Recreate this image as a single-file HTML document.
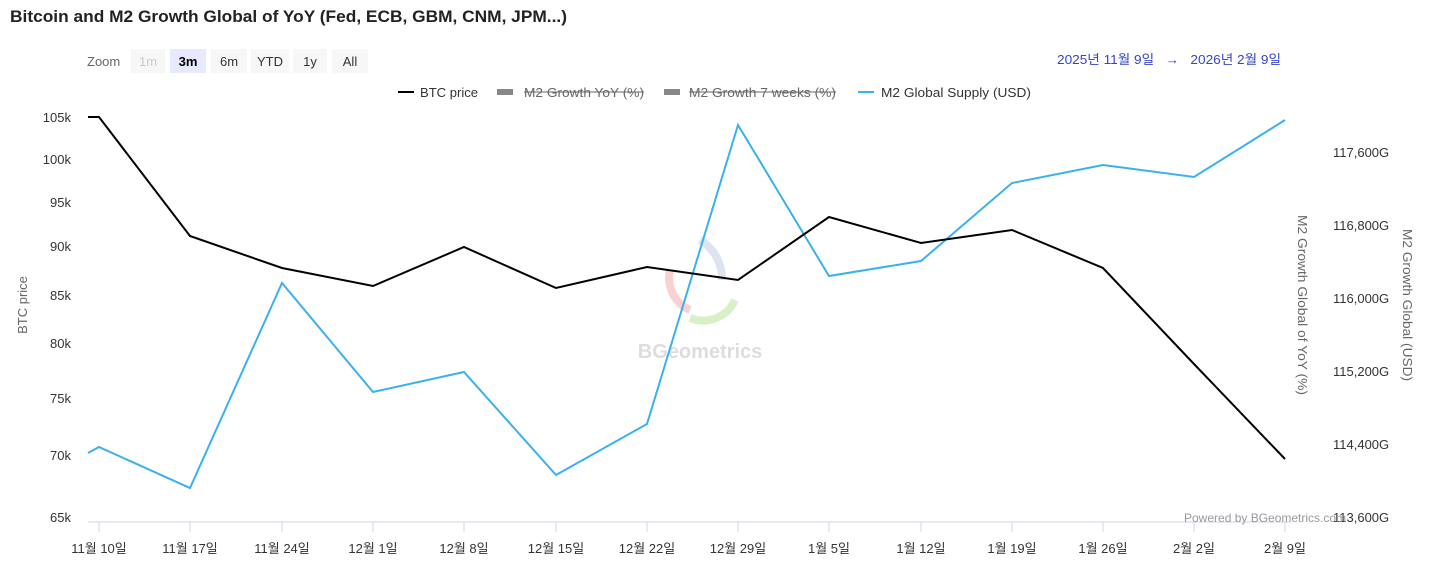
<!DOCTYPE html>
<html><head><meta charset="utf-8"><style>
body{margin:0;background:#fff;width:1431px;height:582px;overflow:hidden;font-family:"Liberation Sans","Noto Sans CJK KR",sans-serif}
</style></head><body>
<svg width="1431" height="582" xmlns="http://www.w3.org/2000/svg" font-family="Liberation Sans, Noto Sans CJK KR, sans-serif">
<text x="10" y="22" font-size="17" font-weight="bold" fill="#222" textLength="557" lengthAdjust="spacingAndGlyphs">Bitcoin and M2 Growth Global of YoY (Fed, ECB, GBM, CNM, JPM...)</text>
<text x="87" y="66" font-size="13" fill="#666">Zoom</text>
<rect x="131" y="49" width="34" height="24" fill="#f7f7f7"/><text x="148" y="66" font-size="13" fill="#ccc" text-anchor="middle">1m</text>
<rect x="170" y="49" width="36" height="24" fill="#e6e9ff"/><text x="188" y="66" font-size="13" fill="#000" font-weight="bold" text-anchor="middle">3m</text>
<rect x="211" y="49" width="36" height="24" fill="#f7f7f7"/><text x="229" y="66" font-size="13" fill="#333" text-anchor="middle">6m</text>
<rect x="251" y="49" width="38" height="24" fill="#f7f7f7"/><text x="270" y="66" font-size="13" fill="#333" text-anchor="middle">YTD</text>
<rect x="293" y="49" width="34" height="24" fill="#f7f7f7"/><text x="310" y="66" font-size="13" fill="#333" text-anchor="middle">1y</text>
<rect x="332" y="49" width="36" height="24" fill="#f7f7f7"/><text x="350" y="66" font-size="13" fill="#333" text-anchor="middle">All</text>
<text x="1057" y="64" font-size="13" fill="#3344cc" textLength="224" lengthAdjust="spacingAndGlyphs">2025년 11월 9일 &#160; → &#160; 2026년 2월 9일</text>
<g font-size="13" fill="#333">
<line x1="398" y1="92" x2="414" y2="92" stroke="#000" stroke-width="2"/><text x="420" y="97" textLength="58" lengthAdjust="spacingAndGlyphs">BTC price</text>
<rect x="497" y="89" width="16" height="6" fill="#888"/><text x="524" y="97" fill="#666" textLength="120" lengthAdjust="spacingAndGlyphs">M2 Growth YoY (%)</text><line x1="524" y1="92" x2="644" y2="92" stroke="#666"/>
<rect x="664" y="89" width="16" height="6" fill="#888"/><text x="689" y="97" fill="#666" textLength="147" lengthAdjust="spacingAndGlyphs">M2 Growth 7 weeks (%)</text><line x1="689" y1="92" x2="836" y2="92" stroke="#666"/>
<line x1="858" y1="92" x2="874" y2="92" stroke="#3ab0ee" stroke-width="2"/><text x="881" y="97" textLength="150" lengthAdjust="spacingAndGlyphs">M2 Global Supply (USD)</text>
</g>
<g font-size="13" fill="#333" text-anchor="end">
<text x="71" y="122">105k</text><text x="71" y="164">100k</text><text x="71" y="207">95k</text><text x="71" y="251">90k</text><text x="71" y="300">85k</text><text x="71" y="348">80k</text><text x="71" y="403">75k</text><text x="71" y="460">70k</text><text x="71" y="522">65k</text>
</g>
<g font-size="13" fill="#333">
<text x="1333" y="157">117,600G</text><text x="1333" y="230">116,800G</text><text x="1333" y="303">116,000G</text><text x="1333" y="376">115,200G</text><text x="1333" y="449">114,400G</text><text x="1333" y="522">113,600G</text>
</g>
<text transform="translate(27,305) rotate(-90)" font-size="13" fill="#666" text-anchor="middle">BTC price</text>
<text transform="translate(1298,305) rotate(90)" font-size="13" fill="#666" text-anchor="middle" textLength="180" lengthAdjust="spacingAndGlyphs">M2 Growth Global of YoY (%)</text>
<text transform="translate(1403,305) rotate(90)" font-size="13" fill="#666" text-anchor="middle" textLength="152" lengthAdjust="spacingAndGlyphs">M2 Growth Global (USD)</text>
<text x="700" y="358" font-size="20" font-weight="bold" fill="#ddd" text-anchor="middle">BGeometrics</text>
<path d="M700,240 A45,45 0 0 1 722,280" fill="none" stroke="#dde4f0" stroke-width="8"/>
<path d="M670,270 A35,35 0 0 0 690,310" fill="none" stroke="#fbd0d0" stroke-width="8"/>
<path d="M690,318 A35,35 0 0 0 735,300" fill="none" stroke="#d8f0c8" stroke-width="8"/>
<line x1="88" y1="522" x2="1290" y2="522" stroke="#ccd6eb"/>
<g stroke="#ccd6eb">
<line x1="99" y1="522" x2="99" y2="532"/><line x1="190" y1="522" x2="190" y2="532"/><line x1="282" y1="522" x2="282" y2="532"/><line x1="373" y1="522" x2="373" y2="532"/><line x1="464" y1="522" x2="464" y2="532"/><line x1="556" y1="522" x2="556" y2="532"/><line x1="647" y1="522" x2="647" y2="532"/><line x1="738" y1="522" x2="738" y2="532"/><line x1="829" y1="522" x2="829" y2="532"/><line x1="921" y1="522" x2="921" y2="532"/><line x1="1012" y1="522" x2="1012" y2="532"/><line x1="1103" y1="522" x2="1103" y2="532"/><line x1="1194" y1="522" x2="1194" y2="532"/><line x1="1285" y1="522" x2="1285" y2="532"/>
</g>
<g font-size="13" fill="#333" text-anchor="middle">
<text x="99" y="553">11월 10일</text><text x="190" y="553">11월 17일</text><text x="282" y="553">11월 24일</text><text x="373" y="553">12월 1일</text><text x="464" y="553">12월 8일</text><text x="556" y="553">12월 15일</text><text x="647" y="553">12월 22일</text><text x="738" y="553">12월 29일</text><text x="829" y="553">1월 5일</text><text x="921" y="553">1월 12일</text><text x="1012" y="553">1월 19일</text><text x="1103" y="553">1월 26일</text><text x="1194" y="553">2월 2일</text><text x="1285" y="553">2월 9일</text>
</g>
<polyline fill="none" stroke="#3ab0ee" stroke-width="2" points="88,453 99,447 190,488 282,283 373,392 464,372 556,475 647,424 738,125 829,276 921,261 1012,183 1103,165 1194,177 1285,120"/>
<polyline fill="none" stroke="#000" stroke-width="2" points="88,117 99,117 190,236 282,268 373,286 464,247 556,288 647,267 738,280 829,217 921,243 1012,230 1103,268 1194,364 1285,459"/>
<text x="1184" y="522" font-size="12" fill="#999">Powered by BGeometrics.com</text>
</svg>
</body></html>
